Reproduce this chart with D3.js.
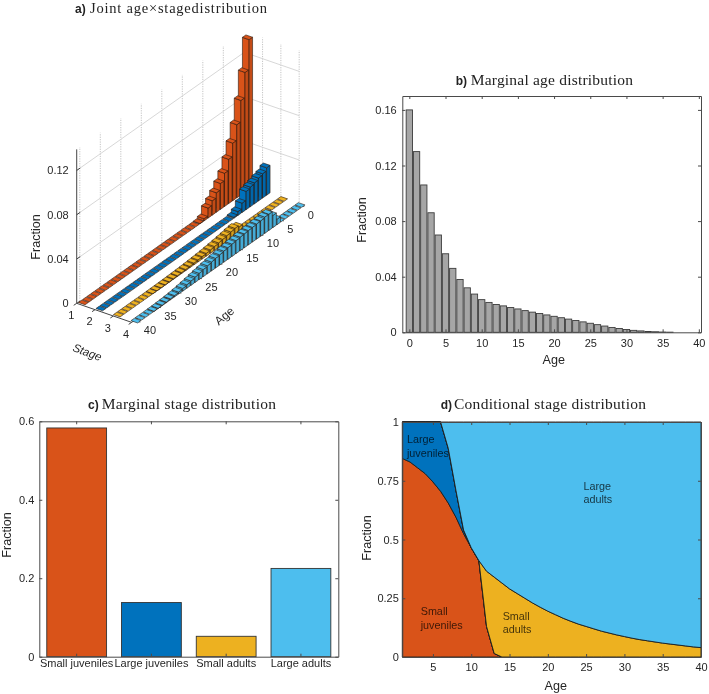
<!DOCTYPE html>
<html><head><meta charset="utf-8">
<script src="https://cdn.jsdelivr.net/npm/d3@7/dist/d3.min.js"></script>
<style>
html,body{margin:0;padding:0;background:#fff}
svg{display:block;filter:blur(.4px)}
text{font-family:"Liberation Sans",Arial,sans-serif;fill:#262626}
.axis path,.axis line{stroke:#4a4a4a;stroke-width:1}
.axis text{font-size:11px;fill:#262626;font-family:"Liberation Sans",Arial,sans-serif}
.lab{font-size:12.6px}
.ttl{font-family:"Liberation Serif",serif;font-size:15.5px;fill:#222}
.pl{font-family:"Liberation Sans",sans-serif;font-size:12px;font-weight:bold;fill:#222}
.ann{font-size:10.8px;fill:#000;fill-opacity:.72}
</style></head><body><svg id="c" width="709" height="694"></svg>
<script>
// ---------- data ----------
const stageNames = ["Small juveniles","Large juveniles","Small adults","Large adults"];
const stageColors = ["#D95319","#0072BD","#EDB120","#4DBEEE"];
const marginalStage = [0.583,0.138,0.052,0.225];
const ages = [0,1,2,3,4,5,6,7,8,9,10,11,12,13,14,15,16,17,18,19,20,21,22,23,24,25,26,27,28,29,30,31,32,33,34,35,36,37,38,39,40];
const marginalAge = [0.16,0.13,0.106,0.086,0.07,0.0565,0.046,0.038,0.032,0.0275,0.0235,0.0215,0.02,0.019,0.0178,0.0168,0.0156,0.0145,0.0135,0.0125,0.0115,0.0105,0.0095,0.0085,0.0075,0.0065,0.0055,0.0045,0.0035,0.0027,0.002,0.0014,0.001,0.0006,0.0004,0.0002,0.0001,0,0,0,0];
// joint distribution, one list per stage, ages 0..40
const jointSmallJuv = [0.135,0.108,0.0853,0.066,0.052,0.04,0.03,0.0234,0.0176,0.013,0.009,0.002,0.0003,0,0,0,0,0,0,0,0,0,0,0,0,0,0,0,0,0,0,0,0,0,0,0,0,0,0,0,0];
const jointLargeJuv = [0.0248,0.022,0.0207,0.019,0.0178,0.0165,0.0085,0.0035,0.001,0,0,0,0,0,0,0,0,0,0,0,0,0,0,0,0,0,0,0,0,0,0,0,0,0,0,0,0,0,0,0,0];
const jointSmallAd = [0,0,0,0,0,0,0,0,0,0,0,0.0055,0.0069,0.0063,0.0055,0.0048,0.0042,0.0036,0.0031,0.0026,0.00225,0.0019,0.0016,0.0013,0.0011,0.0009,0.0007,0.00056,0.0004,0.0003,0.0002,0.00015,0.0001,0,0,0,0,0,0,0,0];
const jointLargeAd = [0,0,0,0,0,0,0.005,0.011,0.0147,0.0147,0.0139,0.0137,0.0133,0.013,0.0126,0.0123,0.0117,0.0112,0.0106,0.0101,0.0094,0.0088,0.0081,0.0073,0.0065,0.0057,0.0049,0.004,0.0032,0.0025,0.0018,0.0013,0.0009,0.0006,0.0004,0.0002,0.0001,0,0,0,0];
// conditional distribution, ages 1..40
const condAges = [1,2,3,4,5,6,7,8,9,10,11,12,13,14,15,16,17,18,19,20,21,22,23,24,25,26,27,28,29,30,31,32,33,34,35,36,37,38,39,40];
const condSmallJuv = [0.845,0.83,0.805,0.78,0.745,0.705,0.655,0.595,0.525,0.465,0.41,0.13,0.015,0,0,0,0,0,0,0,0,0,0,0,0,0,0,0,0,0,0,0,0,0,0,0,0,0,0,0];
const condLargeJuv = [0.155,0.17,0.195,0.22,0.255,0.295,0.233,0.115,0.015,0,0,0,0,0,0,0,0,0,0,0,0,0,0,0,0,0,0,0,0,0,0,0,0,0,0,0,0,0,0,0];
const condSmallAd = [0,0,0,0,0,0,0,0,0,0,0,0.235,0.325,0.315,0.29,0.27,0.25,0.23,0.212,0.195,0.18,0.165,0.152,0.14,0.13,0.12,0.11,0.102,0.094,0.087,0.08,0.074,0.069,0.064,0.059,0.055,0.051,0.047,0.043,0.04];
const condLargeAd = [0,0,0,0,0,0,0.112,0.29,0.46,0.535,0.59,0.635,0.66,0.685,0.71,0.73,0.75,0.77,0.788,0.805,0.82,0.835,0.848,0.86,0.87,0.88,0.89,0.898,0.906,0.913,0.92,0.926,0.931,0.936,0.941,0.945,0.949,0.953,0.957,0.96];
const zTicks = [0,0.04,0.08,0.12];
const zTickLabels = ["0","0.04","0.08","0.12"];
const stageTicks = [1,2,3,4];
const ageTicks3d = [0,5,10,15,20,25,30,35,40];
const bYTicks = [0,0.04,0.08,0.12,0.16];
const bXTicks = [0,5,10,15,20,25,30,35,40];
const cYTicks = [0,0.2,0.4,0.6];
const dXTicks = [5,10,15,20,25,30,35,40];
const dYTicks = [0,0.25,0.5,0.75,1];

const svg = d3.select("#c");
const fmt = d => String(+d.toFixed(2)).replace(/^0\./,"0.");

function title(bold,boldX,text,textX,textEnd,y,size){
  svg.append("text").attr("class","pl").attr("x",boldX).attr("y",y).text(bold);
  const t=svg.append("text").attr("class","ttl").attr("x",textX).attr("y",y)
     .attr("textLength",textEnd-textX).attr("lengthAdjust","spacing").text(text);
  if(size) t.style("font-size",size+"px");
}
function vlabel(t,x,y){
  svg.append("text").attr("class","lab").attr("text-anchor","middle")
     .attr("transform",`translate(${x},${y}) rotate(-90)`).text(t);
}
function hlabel(t,x,y){
  svg.append("text").attr("class","lab").attr("text-anchor","middle").attr("x",x).attr("y",y).text(t);
}
function frame(g,x,y,w,h,xAxisFn,yAxisFn,padX,padY){
  g.append("g").attr("class","axis").attr("transform",`translate(0,${h})`)
    .call(xAxisFn(d3.axisBottom(x)).tickSizeInner(-3).tickSizeOuter(0).tickPadding(padX));
  g.append("g").attr("class","axis")
    .call(yAxisFn(d3.axisLeft(y)).tickSizeInner(-3).tickSizeOuter(0).tickPadding(padY));
  g.append("g").attr("class","axis")
    .call(xAxisFn(d3.axisTop(x)).tickSizeInner(-3).tickSizeOuter(0).tickFormat(""));
  g.append("g").attr("class","axis").attr("transform",`translate(${w},0)`)
    .call(yAxisFn(d3.axisRight(y)).tickSizeInner(-3).tickSizeOuter(0).tickFormat(""));
}

// ---------- panel a: projected bars ----------
(function(){
  const ageDX = d3.scaleLinear().domain([0,40]).range([0,-164]);
  const ageDY = d3.scaleLinear().domain([0,40]).range([0,115.6]);
  const stageX = d3.scaleLinear().domain([1,4]).range([247.5,300]);
  const stageY = d3.scaleLinear().domain([1,4]).range([186.8,205]);
  const zPx = d3.scaleLinear().domain([0,0.12]).range([0,132.9]);
  const P = (a,s,z=0)=>[ageDX(a)+stageX(s), ageDY(a)+stageY(s)-zPx(z)];
  const ageLo=-0.1, ageHi=40.76, sLo=0.79, sHi=3.93, zTop=0.139;
  const stageTick = d3.scaleLinear().domain([1,4]).range([sLo,sHi]);
  const g = svg.append("g");
  const seg=(a,b,cls)=>g.append("line").attr("x1",a[0]).attr("y1",a[1]).attr("x2",b[0]).attr("y2",b[1]).call(cls);
  const gridV = s=>s.attr("stroke","#bdbdbd").attr("stroke-width",.9).attr("stroke-dasharray","1.2 1.2");
  const gridH = s=>s.attr("stroke","#d2d2d2").attr("stroke-width",.9);
  const ink = s=>s.attr("stroke","#444").attr("stroke-width",1);
  ageTicks3d.filter(a=>a>0).forEach(a=>seg(P(a,sLo,0),P(a,sLo,zTop),gridV));
  stageTicks.slice(1).forEach(s=>seg(P(ageLo,stageTick(s),0),P(ageLo,stageTick(s),zTop),gridV));
  zTicks.filter(z=>z>0).forEach(z=>{
    seg(P(ageHi,sLo,z),P(ageLo,sLo,z),gridH);
    seg(P(ageLo,sLo,z),P(ageLo,sHi,z),gridH);
  });
  seg(P(ageHi,sLo),P(ageHi,sLo,zTop),ink);
  seg(P(ageHi,sLo),P(ageHi,sHi),ink);
  seg(P(ageHi,sHi),P(ageLo,sHi),ink);
  zTicks.forEach((z,i)=>{
    const p=P(ageHi,sLo,z);
    seg(p,[p[0]+3.5,p[1]-2.4],ink);
    g.append("text").attr("x",p[0]-8).attr("y",p[1]+3.8).attr("text-anchor","end").attr("font-size",11).text(zTickLabels[i]);
  });
  stageTicks.forEach(s=>{
    const p=P(ageHi,stageTick(s));
    seg(p,[p[0]-3,p[1]+2],ink);
    g.append("text").attr("x",p[0]-5.5).attr("y",p[1]+15.5).attr("text-anchor","middle").attr("font-size",11).text(s);
  });
  ageTicks3d.forEach(a=>{
    const p=P(a,sHi);
    seg(p,[p[0]+5.5,p[1]+1.9],ink);
    g.append("text").attr("x",p[0]+9).attr("y",p[1]+14).attr("text-anchor","start").attr("font-size",11).text(a);
  });
  const poly=(pts,fill)=>g.append("path").attr("d",d3.line()(pts)+"Z").attr("fill",fill)
      .attr("stroke","#2b1a10").attr("stroke-opacity",.85).attr("stroke-width",.7).attr("stroke-linejoin","round");
  const hw=0.42, hs=0.19;
  [jointSmallJuv,jointLargeJuv,jointSmallAd,jointLargeAd].forEach((vals,si)=>{
    const s=si+1, col=d3.color(stageColors[si]);
    ages.forEach((a,i)=>{
      const v=vals[i];
      const A0=a-hw,A1=a+hw,S0=s-hs,S1=s+hs;
      if(v>0){
        poly([P(A1,S0,0),P(A1,S1,0),P(A1,S1,v),P(A1,S0,v)],col.formatHex());           // face toward the older ages
        poly([P(A1,S1,0),P(A0,S1,0),P(A0,S1,v),P(A1,S1,v)],col.darker(.3).formatHex()); // face toward the later stages
      }
      poly([P(A0,S0,v),P(A0,S1,v),P(A1,S1,v),P(A1,S0,v)],col.formatHex());
    });
  });
  g.append("text").attr("class","lab").attr("font-style","italic").style("font-size","11.5px").attr("text-anchor","middle")
    .attr("transform","translate(86,356) rotate(20)").text("Stage");
  g.append("text").attr("class","lab").attr("text-anchor","middle").style("font-size","12px")
    .attr("transform","translate(227,319) rotate(-40)").text("Age");
  vlabel("Fraction",40,237);
  title("a)",75,"Joint age\u00d7stagedistribution",90,267,13.4,14.5);
})();

// ---------- panel b ----------
(function(){
  const L=402.3,T=96,W=298.7,H=236.3;
  const x=d3.scaleLinear().domain([-0.97,40.3]).range([0,W]);
  const y=d3.scaleLinear().domain([0,0.17]).range([H,0]);
  const g=svg.append("g").attr("transform",`translate(${L},${T})`);
  g.selectAll("rect").data(ages).join("rect")
    .attr("x",a=>x(a-0.435)).attr("width",x(0.435)-x(-0.435))
    .attr("y",(a,i)=>y(marginalAge[i])).attr("height",(a,i)=>H-y(marginalAge[i]))
    .attr("fill","#a6a6a6").attr("stroke","#3c3c3c").attr("stroke-width",.9);
  frame(g,x,y,W,H,a=>a.tickValues(bXTicks).tickFormat(d=>d),a=>a.tickValues(bYTicks).tickFormat(fmt),6.9,5.6);
  vlabel("Fraction",366,220); hlabel("Age",553.7,364);
  title("b)",455.7,"Marginal age distribution",470.7,633,85);
})();

// ---------- panel c ----------
(function(){
  const L=39.3,T=421.3,W=299,H=235.4;
  const x=d3.scaleBand().domain(stageNames).range([0,W]).paddingInner(0.2).paddingOuter(0.1);
  const y=d3.scaleLinear().domain([0,0.6]).range([H,0]);
  const g=svg.append("g").attr("transform",`translate(${L},${T})`);
  g.selectAll("rect").data(stageNames).join("rect")
    .attr("x",d=>x(d)).attr("width",x.bandwidth())
    .attr("y",(d,i)=>y(marginalStage[i])).attr("height",(d,i)=>H-y(marginalStage[i]))
    .attr("fill",(d,i)=>stageColors[i]).attr("stroke","#333").attr("stroke-width",.9);
  frame(g,x,y,W,H,a=>a,a=>a.tickValues(cYTicks).tickFormat(fmt),3,5);
  vlabel("Fraction",11,535);
  title("c)",88,"Marginal stage distribution",101.7,276,409);
})();

// ---------- panel d ----------
(function(){
  const L=402.3,T=422,W=298.7,H=235;
  const x=d3.scaleLinear().domain([1,40]).range([0,W]);
  const y=d3.scaleLinear().domain([0,1]).range([H,0]);
  const g=svg.append("g").attr("transform",`translate(${L},${T})`);
  const rows=condAges.map((a,i)=>({age:a,s0:condSmallJuv[i],s1:condLargeJuv[i],s2:condSmallAd[i],s3:condLargeAd[i]}));
  const stack=d3.stack().keys(["s0","s1","s2","s3"])(rows);
  const area=d3.area().x(d=>x(d.data.age)).y0(d=>y(d[0])).y1(d=>y(Math.min(d[1],1)));
  g.selectAll("path.a").data(stack).join("path").attr("class","a")
    .attr("d",area).attr("fill",(d,i)=>stageColors[i])
    .attr("stroke","#1d1d1d").attr("stroke-width",.9).attr("stroke-linejoin","round");
  const ann=(lines,ax,fy)=>lines.forEach((t,i)=>g.append("text").attr("class","ann")
      .attr("x",x(ax)).attr("y",y(fy)+i*13.5).text(t));
  ann(["Large","juveniles"],1.6,0.91);
  ann(["Large","adults"],24.65,0.712);
  ann(["Small","juveniles"],3.4,0.178);
  ann(["Small","adults"],14.1,0.158);
  frame(g,x,y,W,H,a=>a.tickValues(dXTicks).tickFormat(d=>d),a=>a.tickValues(dYTicks).tickFormat(fmt),6.5,3.5);
  vlabel("Fraction",371,538); hlabel("Age",555.7,690);
  title("d)",440.7,"Conditional stage distribution",454,646,409);
})();
</script></body></html>
